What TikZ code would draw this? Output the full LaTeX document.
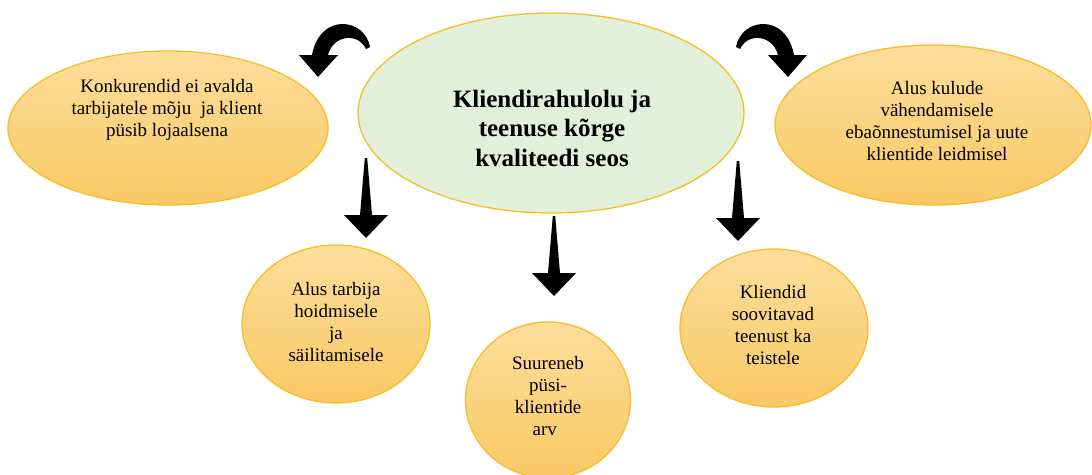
\documentclass[tikz,border=0pt]{standalone}
\usepackage{fontspec}
\setmainfont{Liberation Serif}
\usetikzlibrary{shapes.geometric}
\definecolor{oborder}{RGB}{246,190,40}
\definecolor{otop}{RGB}{253,222,156}
\definecolor{obot}{RGB}{249,201,100}
\definecolor{gfill}{RGB}{226,239,217}
\tikzset{
  orangeell/.style={ellipse, draw=oborder, line width=1.3pt, top color=otop, bottom color=obot, inner sep=0pt},
  greenell/.style={ellipse, draw=oborder, line width=1.3pt, fill=gfill, inner sep=0pt},
  smalltext/.style={align=center, font=\fontsize{19}{22}\selectfont, text=black, inner sep=0pt},
  bigtext/.style={align=center, font=\fontsize{25}{29.5}\selectfont\bfseries, text=black, inner sep=0pt},
  darrow/.pic={\fill[black] (-1.2,0) -- (1.2,0) -- (6,57) -- (22,57) -- (0,80) -- (-22,57) -- (-6,57) -- cycle;},
  carrowL/.pic={\fill[black] (370,47) .. controls (365,18) and (320,12) .. (312,55) -- (299,55) -- (318,77) -- (338,55) -- (328,55) .. controls (333,35) and (358,32) .. (366,49) -- cycle;},
  carrowR/.pic={\fill[black] (736,47) .. controls (741,18) and (786,12) .. (794,55) -- (807,55) -- (788,77) -- (768,55) -- (778,55) .. controls (773,35) and (748,32) .. (740,49) -- cycle;}
}
\begin{document}
\begin{tikzpicture}[x=1pt,y=-1pt]
\useasboundingbox (0,0) rectangle (1092,474);
% ellipses
\node[greenell, minimum width=386pt, minimum height=200pt] (center) at (551,113) {};
\node[orangeell, minimum width=320pt, minimum height=154pt] (lefttop) at (168,128) {};
\node[orangeell, minimum width=316pt, minimum height=160pt] (righttop) at (933,125) {};
\node[orangeell, minimum width=188pt, minimum height=158pt] (botleft) at (336,324) {};
\node[orangeell, minimum width=165pt, minimum height=156pt] (botmid) at (548,400) {};
\node[orangeell, minimum width=188pt, minimum height=158pt] (botright) at (774,328) {};
% texts
\node[bigtext] (tcenter) at (552,128) {Kliendirahulolu ja\\teenuse kõrge\\kvaliteedi seos};
\node[smalltext] (tlefttop) at (167,110) {Konkurendid ei avalda\\tarbijatele mõju\ \ ja klient\\püsib lojaalsena};
\node[smalltext] (trighttop) at (937,121) {Alus kulude\\vähendamisele\\ebaõnnestumisel ja uute\\klientide leidmisel};
\node[smalltext] (tbotleft) at (336,322) {Alus tarbija\\hoidmisele\\ja\\säilitamisele};
\node[smalltext] (tbotmid) at (548,396) {Suureneb\\püsi-\\klientide\\arv\,\,};
\node[smalltext] (tbotright) at (773,325) {Kliendid\\soovitavad\\teenust ka\\teistele};
% arrows
\pic at (366,158) {darrow};
\pic at (554,216) {darrow};
\pic at (738,161) {darrow};
\pic at (0,0) {carrowL};
\pic at (0,0) {carrowR};
\end{tikzpicture}
\end{document}
